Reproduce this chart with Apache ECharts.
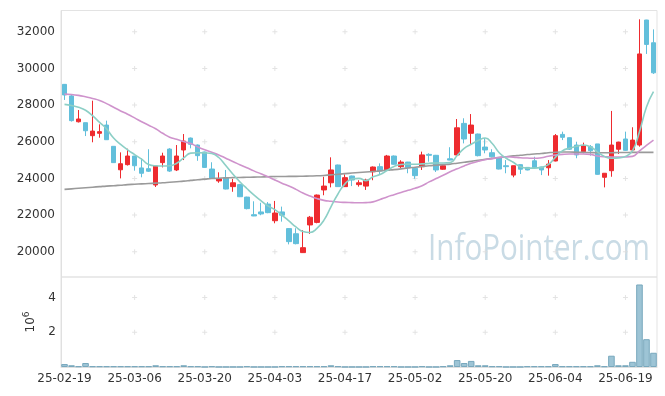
<!DOCTYPE html>
<html><head><meta charset="utf-8">
<script src="https://cdn.jsdelivr.net/npm/echarts@6/dist/echarts.min.js"></script>
<style>html,body{margin:0;padding:0;background:#fff}#c{width:665px;height:396px}</style>
</head><body><div id="c"></div>
<script>
const dates = ["25-02-19","25-02-20","25-02-21","25-02-24","25-02-25","25-02-26","25-02-27","25-02-28",
"25-03-04","25-03-05","25-03-06","25-03-07","25-03-10","25-03-11","25-03-12","25-03-13","25-03-14","25-03-17","25-03-18","25-03-19","25-03-20","25-03-21","25-03-24","25-03-25","25-03-26","25-03-27","25-03-28","25-03-31",
"25-04-01","25-04-02","25-04-03","25-04-04","25-04-07","25-04-08","25-04-09","25-04-10","25-04-11","25-04-14","25-04-15","25-04-16","25-04-17","25-04-18","25-04-21","25-04-22","25-04-23","25-04-24","25-04-25","25-04-28","25-04-29","25-04-30",
"25-05-02","25-05-07","25-05-08","25-05-09","25-05-12","25-05-13","25-05-14","25-05-15","25-05-16","25-05-19","25-05-20","25-05-21","25-05-22","25-05-23","25-05-26","25-05-27","25-05-28","25-05-29","25-05-30",
"25-06-02","25-06-04","25-06-05","25-06-09","25-06-10","25-06-11","25-06-12","25-06-13","25-06-16","25-06-17","25-06-18","25-06-19","25-06-20","25-06-23","25-06-24","25-06-25"];

const opens  = [29130,28500,27090,27040,26330,26460,26910,25750,24470,24750,25220,24570,24530,23640,24860,25600,24460,25550,26200,25820,25440,24510,23860,24040,23550,23660,22980,22020,22170,22600,21690,22170,21260,20980,19950,21460,21600,23370,23760,24730,23550,24130,23660,23580,24360,24640,24460,25220,24640,24890,24550,24640,25310,25260,24500,25070,25280,27000,26460,26420,25710,25400,25150,24690,24180,24750,24600,24960,24620,24580,24950,26400,26220,25820,25460,25730,25880,24060,24420,25590,26150,25550,25820,32640,31400];
const closes = [28550,27150,27240,26600,26580,26550,26110,24860,24800,25220,24690,24280,24390,24680,25220,24400,25220,26040,25860,25240,24600,24000,23980,23420,23760,23000,22350,21950,22060,22130,22110,21990,20550,20440,20220,21880,23090,23580,24460,23550,24040,23910,23760,23910,24620,24400,25220,24770,24890,24580,24150,25280,25260,24460,24690,25000,26760,26150,26910,25240,25550,25180,24510,24640,24690,24500,24460,24580,24460,24780,26330,26240,25590,25280,25770,25510,24220,24280,25820,25980,25530,26090,30790,31310,29760];
const lows   = [28280,27100,27050,26310,25970,26220,26100,24850,24000,24700,24420,24060,24350,23530,24600,24350,24400,25000,25640,24960,24580,23980,23760,23400,23270,22980,22310,21940,21990,22100,21550,21640,20400,20400,19930,20970,21550,23080,23510,23530,23530,23580,23550,23370,23900,24240,24440,24750,24570,24280,23980,24460,24910,24350,24470,24990,25250,25910,25820,25200,25370,25150,24490,24280,24060,24240,24440,24560,24180,24150,24930,26090,25550,25100,25370,25240,24200,23510,24090,25330,25500,25530,25730,30790,29700];
const highs  = [29150,28550,27730,27040,28240,26950,27150,25750,25420,25620,25220,25100,25590,24700,25400,25650,25820,26420,26230,25850,25460,24880,24330,24460,23970,23700,23000,22750,22670,22710,22770,22460,21280,21280,21180,21950,23120,24090,25150,24750,24220,24150,23900,23980,24650,24820,25280,25250,24990,24900,24560,25460,25370,25280,24770,25700,27240,27280,27510,26440,26200,25590,25160,25000,24700,24770,24620,25180,24640,25000,26420,26550,26230,26000,25950,25820,25880,24290,27680,26000,26550,26790,32680,32650,32130];

const volumes = [170000,100000,40000,230000,40000,40000,40000,40000,40000,40000,40000,40000,40000,100000,40000,40000,40000,100000,40000,40000,5000,40000,5000,5000,5000,5000,40000,5000,5000,5000,5000,40000,40000,40000,40000,40000,40000,40000,100000,40000,5000,5000,5000,5000,40000,40000,40000,40000,5000,5000,5000,40000,5000,5000,40000,100000,400000,230000,350000,100000,100000,40000,40000,5000,5000,5000,40000,40000,40000,40000,170000,40000,40000,40000,40000,40000,100000,40000,650000,100000,100000,300000,4750000,1600000,820000];

const ma5 = [28040,27980,27880,27720,27420,27060,26700,26200,25850,25560,25300,25050,24760,24690,24680,24690,24830,25120,25380,25400,25390,25360,25140,24700,24240,23820,23450,23100,22790,22500,22300,22000,21680,21350,21100,21050,21270,21720,22450,23150,23700,23970,24000,23880,24090,24210,24430,24650,24760,24780,24770,24790,24820,24840,24840,24860,25250,25640,25860,26070,26200,25900,25400,25100,24880,24640,24560,24560,24600,24750,25150,25500,25650,25750,25820,25730,25450,25200,25100,25120,25200,25500,26550,27900,28730];
const ma20 = [28600,28580,28530,28450,28360,28250,28080,27880,27680,27500,27300,27090,26900,26710,26460,26250,26130,26010,25900,25720,25560,25420,25280,25100,24920,24750,24580,24410,24250,24090,23910,23740,23580,23400,23200,23040,22900,22800,22750,22710,22690,22680,22670,22680,22720,22850,22990,23110,23230,23350,23460,23600,23810,23990,24170,24360,24520,24680,24820,24930,25020,25080,25140,25180,25160,25130,25110,25095,25130,25210,25270,25310,25330,25330,25330,25310,25220,25180,25170,25165,25170,25200,25500,25800,26090];
const ma120 = [23400,23430,23460,23490,23520,23550,23580,23600,23630,23660,23680,23700,23720,23740,23760,23790,23820,23850,23890,23930,23960,23990,24010,24030,24040,24050,24060,24070,24080,24090,24100,24100,24110,24110,24120,24130,24140,24160,24190,24230,24260,24290,24320,24350,24380,24410,24450,24480,24520,24570,24610,24650,24690,24720,24750,24780,24830,24880,24930,24990,25040,25090,25140,25180,25230,25260,25300,25330,25360,25400,25430,25440,25440,25430,25420,25410,25400,25400,25400,25410,25410,25420,25420,25420,25420];

const priceTicks = [20000,22000,24000,26000,28000,30000,32000];
const volTicks = [2000000,4000000];

const UP = '#ee2b2f', DOWN = '#62bfdb';
const FONT = 'DejaVu Sans';

const ohlc = dates.map((d,i)=>[opens[i],closes[i],lows[i],highs[i]]);
const markIdx = dates.map((d,i)=>i).filter(i=>i>0 && i%10===0);
const priceMarks = []; markIdx.forEach(i=>priceTicks.forEach(v=>priceMarks.push([i,v])));
const volMarks = []; markIdx.forEach(i=>volTicks.forEach(v=>volMarks.push([i,v])));
const plus = 'path://M2,0h1v5h-1zM0,2h5v1h-5z';

const chart = echarts.init(document.getElementById('c'), null, {renderer:'canvas'});
chart.setOption({
  animation:false,
  backgroundColor:'#fff',
  graphic:[{type:'text', x:428, y:231, scaleX:0.8, z:0, silent:true,
    style:{text:'InfoPointer.com', fontSize:37, fontFamily:'Open Sans', fill:'#c9dbe5'}}],
  grid:[
    {left:61, right:8, top:10.5, height:266.5, show:true, borderColor:'#e3e3e3', borderWidth:1, z:0},
    {left:61, right:8, top:277, height:90, show:true, borderColor:'#e3e3e3', borderWidth:1, z:0}
  ],
  xAxis:[
    {type:'category', data:dates, gridIndex:0, boundaryGap:true,
     axisLine:{show:false}, axisTick:{show:false}, axisLabel:{show:false}, splitLine:{show:false}},
    {type:'category', data:dates, gridIndex:1, boundaryGap:true,
     axisLine:{lineStyle:{color:'#e0e0e0'}}, axisTick:{show:false},
     axisLabel:{interval:9, color:'#333', fontSize:12, fontFamily:FONT, margin:6},
     splitLine:{show:false}}
  ],
  yAxis:[
    {type:'value', gridIndex:0, min:18620, max:33160, scale:true,
     axisLine:{show:true, lineStyle:{color:'#e0e0e0'}}, axisTick:{show:false},
     axisLabel:{customValues:priceTicks, formatter:v=>String(v), color:'#333', fontSize:12, fontFamily:FONT, margin:6},
     splitLine:{show:false}},
    {type:'value', gridIndex:1, min:0, max:5180000,
     name:'{a|10}{b|6}', nameLocation:'middle', nameRotate:90, nameGap:22,
     nameTextStyle:{rich:{a:{fontSize:12, fontFamily:FONT, color:'#333'}, b:{fontSize:9, fontFamily:FONT, color:'#333', verticalAlign:'top', padding:[0,0,8,0]}}},
     axisLine:{show:true, lineStyle:{color:'#e0e0e0'}}, axisTick:{show:false},
     axisLabel:{customValues:volTicks, formatter:v=>String(v/1e6), color:'#333', fontSize:12, fontFamily:FONT, margin:5},
     splitLine:{show:false}}
  ],
  series:[
    {type:'scatter', xAxisIndex:0, yAxisIndex:0, data:priceMarks, symbol:plus, symbolSize:5, silent:true, z:1,
     itemStyle:{color:'#dcdcdc'}},
    {type:'scatter', xAxisIndex:1, yAxisIndex:1, data:volMarks, symbol:plus, symbolSize:5, silent:true, z:1,
     itemStyle:{color:'#dcdcdc'}},
    {type:'candlestick', xAxisIndex:0, yAxisIndex:0, data:ohlc, barWidth:5, z:3,
     itemStyle:{color:UP, color0:DOWN, borderColor:UP, borderColor0:DOWN, borderWidth:1}},
    {type:'line', xAxisIndex:0, yAxisIndex:0, data:ma120, showSymbol:false, smooth:true, z:4,
     lineStyle:{color:'#9a9a9a', width:1.6}},
    {type:'line', xAxisIndex:0, yAxisIndex:0, data:ma20, showSymbol:false, smooth:true, z:4,
     lineStyle:{color:'#cf93cc', width:1.6}},
    {type:'line', xAxisIndex:0, yAxisIndex:0, data:ma5, showSymbol:false, smooth:true, z:4,
     lineStyle:{color:'#8ccfc6', width:1.6}},
    {type:'bar', xAxisIndex:1, yAxisIndex:1, data:volumes, barCategoryGap:'6%', z:3,
     itemStyle:{color:'#9dc4d5', borderColor:'#78a8bd', borderWidth:1}}
  ]
});
</script></body></html>
